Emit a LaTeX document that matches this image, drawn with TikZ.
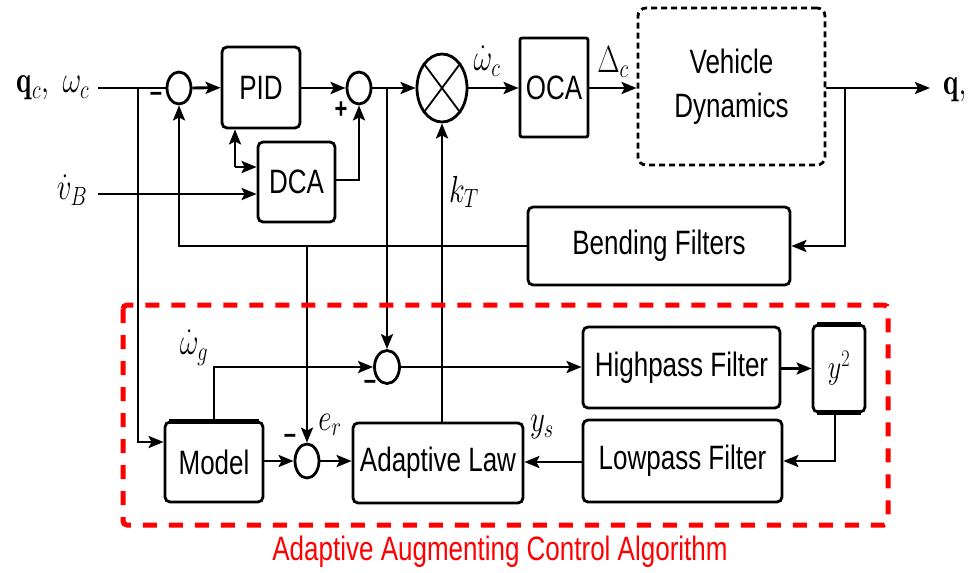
\documentclass[tikz,border=0pt]{standalone}
\usepackage{fix-cm}
\usepackage{fontspec}
\newfontfamily\arial{Liberation Sans}
\usetikzlibrary{arrows.meta,shapes.geometric,calc}
\newcommand{\vs}[1]{\scalebox{1}[1.3]{#1}}
\begin{document}
\begin{tikzpicture}[x=1pt,y=-1pt,
 line width=2.8pt,
 blk/.style={draw,line width=2.8pt,rounded corners=5pt,inner sep=0pt,font=\arial\fontsize{26}{34}\selectfont},
 sumc/.style={draw,ellipse,line width=2.8pt,inner sep=0pt,minimum width=24pt,minimum height=32pt},
 arr/.style={-{Stealth[length=15pt,width=12pt,inset=3pt]}},
 lbl/.style={font=\fontsize{29}{34}\selectfont,inner sep=0pt},
 sgn/.style={font=\arial\bfseries\fontsize{22}{26}\selectfont,inner sep=0pt},
]
\useasboundingbox (0,0) rectangle (972,573);

% blocks
\node[blk,minimum width=78pt,minimum height=81pt] (pid) at (261,87.5) {\vs{PID}};
\node[blk,minimum width=77pt,minimum height=80pt] (dca) at (296.5,182) {\vs{DCA}};
\node[blk,rounded corners=2pt,minimum width=68pt,minimum height=99pt] (oca) at (554,87.5) {\vs{OCA}};
\node[blk,dash pattern=on 6pt off 4pt,rounded corners=8pt,minimum width=187pt,minimum height=157pt] (vd) at (731.5,86.5) {\vs{\begin{tabular}{@{}c@{}}Vehicle\\Dynamics\end{tabular}}};
\node[blk,minimum width=262pt,minimum height=78pt] (bf) at (659,246) {\vs{Bending Filters}};
\node[blk,minimum width=98pt,minimum height=80pt] (mod) at (214,462) {\vs{Model}};
\node[blk,minimum width=170pt,minimum height=80pt] (al) at (438,463) {\vs{Adaptive Law}};
\node[blk,minimum width=197pt,minimum height=81pt] (hf) at (681.5,367.5) {\vs{Highpass Filter}};
\node[blk,minimum width=52pt,minimum height=87pt] (ysq) at (839,368.5) {\vs{$y^2$}};
\node[blk,minimum width=199pt,minimum height=82pt] (lf) at (682.5,461) {\vs{Lowpass Filter}};
\draw[line width=5pt] ([xshift=5pt,yshift=-1pt]ysq.north west) -- ([xshift=-5pt,yshift=-1pt]ysq.north east);
\draw[line width=5pt] ([xshift=5pt,yshift=1pt]ysq.south west) -- ([xshift=-5pt,yshift=1pt]ysq.south east);
\draw[line width=4.5pt] ([xshift=5pt,yshift=-1pt]mod.north west) -- ([xshift=-5pt,yshift=-1pt]mod.north east);

% summing junctions
\node[sumc] (s1) at (179,88) {};
\node[sumc] (s2) at (359,88) {};
\node[sumc,minimum width=50pt,minimum height=68pt] (mul) at (442,88) {};
\draw[line width=1.8pt] (mul.north east) -- (mul.south west) (mul.north west) -- (mul.south east);
\node[sumc,minimum width=25pt,minimum height=33pt] (s3) at (387,367) {};
\node[sumc,minimum height=34pt] (s4) at (307,461) {};

% coordinates
\coordinate (in1) at (98,88);
\coordinate (in2) at (98,194);
\coordinate (out) at (930,88);
\coordinate (j1) at (138,88);
\coordinate (j2) at (387,88);
\coordinate (j3) at (845,88);
\coordinate (j4) at (307,247);
\coordinate (pd) at (235,167);

% connectors
\draw (in1) -- (s1.west);
\draw[arr] (j1) |- ([yshift=20pt]mod.west);
\draw[arr] (s1) -- (pid);
\draw[arr] (pid.east |- s2) -- (s2.west);
\draw[arr] (s2) -- (mul);
\draw[arr] (j2) -- (s3.north);
\draw[arr] (mul) -- (oca.west |- mul);
\draw[arr] (oca.east |- mul) -- (vd.west |- mul);
\draw[arr] (vd.east |- out) -- (out);
\draw[arr] (j3) |- (bf.east);
\draw[arr] (bf.west) -| (s1.south);
\draw[arr] (j4) -- (s4.north);
\draw[arr] (in2) -- (in2 -| dca.west);
\draw[arr] ([yshift=2pt]dca.east) -| (s2.south);
\draw[arr] (pd) -- (pd |- pid.south);
\draw[arr] (pd) -- (pd -| dca.west);
\draw[arr] (mod.north) |- (s3.west);
\draw[arr] (mod.east |- s4) -- (s4.west);
\draw[arr] (s4) -- (al.west |- s4);
\draw[arr] (al.north -| mul) -- (mul.south);
\draw[arr] (s3) -- (hf.west |- s3);
\draw[arr] (hf.east |- ysq) -- (ysq.west);
\draw[arr] ([xshift=-4pt]ysq.south) |- (lf.east);
\draw[arr] (lf.west |- 0,462) -- (al.east |- 0,462);

% labels
\node[lbl] (lq) at (53,88) {\vs{$\mathbf{q}_c,\ \omega_c$}};
\node[lbl] (lvb) at (72,190) {\vs{$\dot v_B$}};
\node[lbl] (lwc) at (487,61) {\vs{$\dot\omega_c$}};
\node[lbl] (ldc) at (613,62) {\vs{$\Delta_c$}};
\node[lbl] (lkt) at (464,192) {\vs{$k_T$}};
\node[lbl,anchor=west] (lqo) at (942,90) {\vs{$\mathbf{q},$}};
\node[lbl] (lwg) at (194,348) {\vs{$\dot\omega_g$}};
\node[lbl] (ler) at (330,425) {\vs{$e_r$}};
\node[lbl] (lys) at (542,427) {\vs{$y_s$}};

% signs
\node[sgn] (m1) at (156,97) {\vs{–}};
\node[sgn] (p2) at (341,110) {\vs{+}};
\node[sgn] (m3) at (370,385) {\vs{–}};
\node[sgn] (m4) at (290,439) {\vs{–}};

% adaptive region
\draw[red,line width=5pt,dash pattern=on 14pt off 12pt,rounded corners=4pt] (123,305) rectangle (888,525);
\node[font=\arial\fontsize{26}{34}\selectfont,text=red,inner sep=0pt] (cap) at (500,552) {\vs{Adaptive Augmenting Control Algorithm}};
\end{tikzpicture}
\end{document}
